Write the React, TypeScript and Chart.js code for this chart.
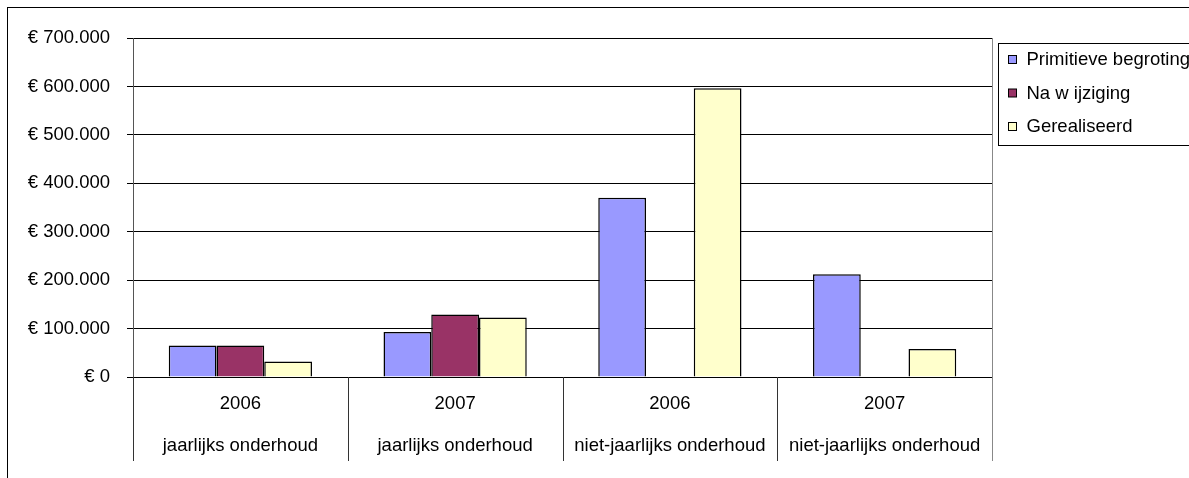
import React, { useEffect, useRef } from 'react';
import { Chart, registerables } from 'chart.js';

Chart.register(...registerables);

const categoryYears = ['2006', '2007', '2006', '2007'];
const categoryTypes = [
  'jaarlijks onderhoud',
  'jaarlijks onderhoud',
  'niet-jaarlijks onderhoud',
  'niet-jaarlijks onderhoud',
];
const seriesNames = ['Primitieve begroting', 'Na w ijziging', 'Gerealiseerd'];
const primitieveBegroting = [65000, 93000, 370000, 212000];
const naWijziging: (number | null)[] = [65000, 129000, null, null];
const gerealiseerd = [32000, 123000, 596000, 58000];
const seriesColors = ['#9999FF', '#993366', '#FFFFCC'];
const yMin = 0;
const yMax = 700000;
const yStep = 100000;

const FONT = 'Arial, "Liberation Sans", sans-serif';
const FONT_SIZE = 18.5;

function formatEuro(v: number): string {
  const s = String(Math.round(v)).replace(/\B(?=(\d{3})+(?!\d))/g, '.');
  return '€ ' + s;
}

const decorPlugin = {
  id: 'decor',
  afterDraw(chart: any) {
    const { ctx, chartArea } = chart;
    const n = chart.data.labels.length;
    const w = (chartArea.right - chartArea.left) / n;
    const sepBottom = chartArea.bottom + 84;
    ctx.save();
    // category separators below the axis
    ctx.strokeStyle = '#333';
    ctx.lineWidth = 1;
    for (let i = 0; i <= n; i++) {
      const x = Math.round(chartArea.left + i * w) + 0.5;
      ctx.beginPath();
      ctx.moveTo(x, chartArea.bottom);
      ctx.lineTo(x, sepBottom);
      ctx.stroke();
    }
    // right border of plot area
    ctx.strokeStyle = '#888';
    ctx.beginPath();
    ctx.moveTo(Math.round(chartArea.right) + 0.5, chartArea.top);
    ctx.lineTo(Math.round(chartArea.right) + 0.5, sepBottom);
    ctx.stroke();

    // legend box
    const lx = chartArea.right + 6;
    const ly = chartArea.top + 5;
    ctx.strokeStyle = '#000';
    ctx.lineWidth = 1;
    ctx.strokeRect(lx + 0.5, ly + 0.5, 400, 102);
    ctx.font = `${FONT_SIZE}px ${FONT}`;
    ctx.textBaseline = 'middle';
    ctx.textAlign = 'left';
    chart.data.datasets.forEach((ds: any, i: number) => {
      const cy = ly + 17 + i * 33.5;
      ctx.fillStyle = ds.backgroundColor;
      ctx.fillRect(lx + 10.5, cy - 4.5, 8, 8);
      ctx.strokeStyle = '#000';
      ctx.strokeRect(lx + 10.5, cy - 4.5, 8, 8);
      ctx.fillStyle = '#000';
      ctx.fillText(ds.label, lx + 28.5, cy);
    });
    ctx.restore();
  },
};

export default function App() {
  const ref = useRef<HTMLCanvasElement | null>(null);

  useEffect(() => {
    if (!ref.current) return;
    const labels = categoryYears.map((y, i) => [y, categoryTypes[i]]);
    const values = [primitieveBegroting, naWijziging, gerealiseerd];
    const chart = new Chart(ref.current, {
      type: 'bar',
      data: {
        labels,
        datasets: seriesNames.map((name, i) => ({
          label: name,
          data: values[i] as any,
          backgroundColor: seriesColors[i],
          borderColor: '#000',
          borderWidth: 1.5,
          categoryPercentage: 0.667,
          barPercentage: 1.0,
        })),
      },
      options: {
        animation: false,
        responsive: false,
        devicePixelRatio: 1,
        layout: { padding: { top: 30, left: 0, right: 216, bottom: 0 } },
        plugins: {
          legend: { display: false },
          tooltip: { enabled: false },
          title: { display: false },
        },
        scales: {
          x: {
            grid: { display: false, drawTicks: false, drawOnChartArea: false },
            border: { display: true, color: '#000', width: 1 },
            ticks: {
              color: '#000',
              padding: 5.5,
              maxRotation: 0,
              autoSkip: false,
              font: { family: FONT, size: FONT_SIZE, lineHeight: '42.5px' as any },
            },
            afterFit: (scale: any) => {
              scale.height = 111;
            },
          },
          y: {
            min: yMin,
            max: yMax,
            grid: { color: '#000', lineWidth: 1, tickLength: 6, drawTicks: true },
            border: { display: true, color: '#555', width: 1 },
            ticks: {
              stepSize: yStep,
              color: '#000',
              padding: 17,
              font: { family: FONT, size: FONT_SIZE },
              callback: (v: any) => formatEuro(Number(v)),
            },
            afterFit: (scale: any) => {
              scale.width = 125;
            },
          },
        },
      },
      plugins: [decorPlugin],
    });
    return () => chart.destroy();
  }, []);

  return (
    <div
      style={{
        position: 'fixed',
        left: 7,
        top: 7,
        width: 1200,
        height: 480,
        border: '1px solid #000',
        background: '#fff',
      }}
    >
      <canvas ref={ref} width={1200} height={480} style={{ display: 'block' }} />
    </div>
  );
}
